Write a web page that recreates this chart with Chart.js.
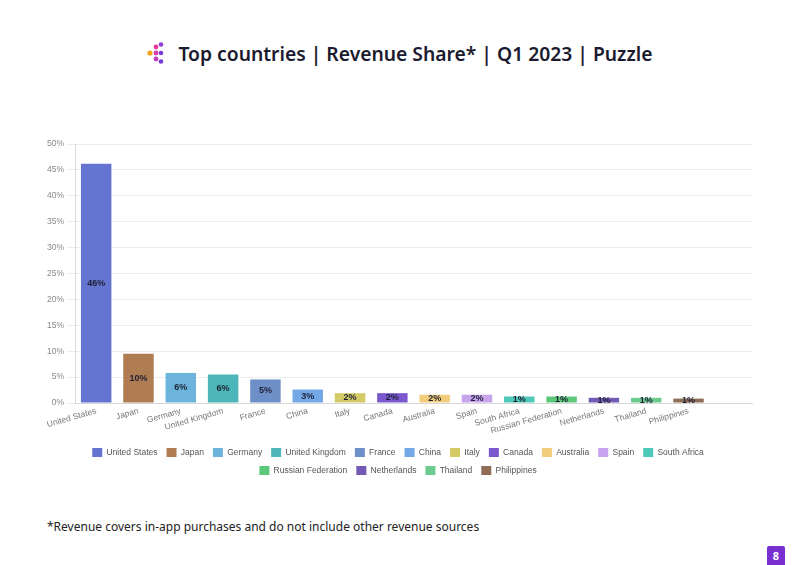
<!DOCTYPE html>
<html>
<head>
<meta charset="utf-8">
<script src="https://cdn.jsdelivr.net/npm/chart.js@4"></script>
<style>
  html, body { margin: 0; padding: 0; background: #fff; }
  body { width: 800px; height: 565px; position: relative; overflow: hidden; font-family: "Noto Sans", sans-serif; }
  #title { position: absolute; top: 40px; left: 0; width: 800px; text-align: center; font-size: 19.3px; font-weight: 600; color: #1b1b2f; }
  #title svg { vertical-align: -3px; margin-right: 13px; }
  #chartbox { position: absolute; left: 40px; top: 136px; width: 720px; height: 349px; }
  #foot { position: absolute; left: 47px; top: 518px; font-size: 12px; color: #222; }
  #page { position: absolute; left: 767px; top: 546px; width: 18px; height: 19px; background: #7a2fd0; color: #fff; font-size: 11px; font-weight: 700; text-align: center; line-height: 19px; border-radius: 2px 2px 0 0; }
</style>
</head>
<body>
<div id="title"><svg width="18" height="22" viewBox="0 0 18 22"><circle cx="3" cy="11" r="2.6" fill="#f7a21b"/><circle cx="9" cy="5" r="2.4" fill="#e8399a"/><circle cx="9" cy="11" r="2.4" fill="#d63fb0"/><circle cx="9" cy="17" r="2.4" fill="#c03dc4"/><circle cx="14" cy="2.5" r="2.3" fill="#8f3fd6"/><circle cx="14" cy="11" r="2.3" fill="#7a3ad8"/><circle cx="14" cy="19.5" r="2.3" fill="#7a3ad8"/></svg>Top countries | Revenue Share* | Q1 2023 | Puzzle</div>
<div id="chartbox"><canvas id="c"></canvas></div>
<div id="foot">*Revenue covers in-app purchases and do not include other revenue sources</div>
<div id="page">8</div>
<script>
const countries = ["United States","Japan","Germany","United Kingdom","France","China","Italy","Canada","Australia","Spain","South Africa","Russian Federation","Netherlands","Thailand","Philippines"];
const shares = [46.2, 9.5, 5.8, 5.5, 4.55, 2.6, 1.9, 1.9, 1.6, 1.6, 1.25, 1.25, 1.0, 1.0, 0.85];
const colors = ["#6474d0","#b07d52","#6cb4dc","#4db6b8","#6f8fc8","#74a8e6","#d4cb66","#7b58ce","#f2cd7a","#c9a4ee","#4ec8b8","#5dc77a","#7459b6","#6ccb8f","#8f6e55"];
const categoryLabels = countries.concat([""]);
const yTicks = [0,5,10,15,20,25,30,35,40,45,50];

const datasets = countries.map((name, i) => ({
  label: name,
  data: categoryLabels.map((_, j) => j === i ? shares[i] : null),
  backgroundColor: colors[i],
  borderWidth: 0
}));

const barLabels = {
  id: 'barLabels',
  afterDatasetsDraw(chart) {
    const ctx = chart.ctx;
    ctx.save();
    ctx.font = 'bold 9px "Liberation Sans", Arial, sans-serif';
    ctx.fillStyle = '#1e2235';
    ctx.textAlign = 'center';
    ctx.textBaseline = 'middle';
    chart.data.datasets.forEach((ds, di) => {
      const meta = chart.getDatasetMeta(di);
      meta.data.forEach((el, j) => {
        const v = ds.data[j];
        if (v === null || v === undefined) return;
        ctx.fillText(Math.round(v) + '%', el.x, (el.y + el.base) / 2);
      });
    });
    ctx.restore();
  }
};

new Chart(document.getElementById('c'), {
  type: 'bar',
  data: { labels: categoryLabels, datasets },
  options: {
    responsive: true,
    maintainAspectRatio: false,
    animation: false,
    layout: { padding: { right: 8, top: 8, left: 4 } },
    datasets: { bar: { grouped: false } },
    plugins: {
      legend: {
        position: 'bottom',
        labels: {
          boxWidth: 10, boxHeight: 9, padding: 9,
          color: '#555',
          font: { family: '"Liberation Sans", Arial, sans-serif', size: 8.5 }
        }
      },
      tooltip: { enabled: false }
    },
    scales: {
      x: {
        grid: { display: false, drawTicks: false },
        border: { color: '#d8d8d8' },
        afterFit(scale) { scale.height = 36; },
        ticks: {
          minRotation: 16, maxRotation: 16, autoSkip: false, padding: 3,
          color: '#777',
          font: { family: '"Liberation Sans", Arial, sans-serif', size: 8.5 }
        }
      },
      y: {
        min: 0, max: 50,
        afterBuildTicks(axis) { axis.ticks = yTicks.map(v => ({ value: v })); },
        grid: { color: '#ececec' },
        border: { color: '#d8d8d8' },
        ticks: {
          color: '#888',
          font: { family: '"Liberation Sans", Arial, sans-serif', size: 8.5 },
          callback: v => v + '%'
        }
      }
    }
  },
  plugins: [barLabels]
});
</script>
</body>
</html>
